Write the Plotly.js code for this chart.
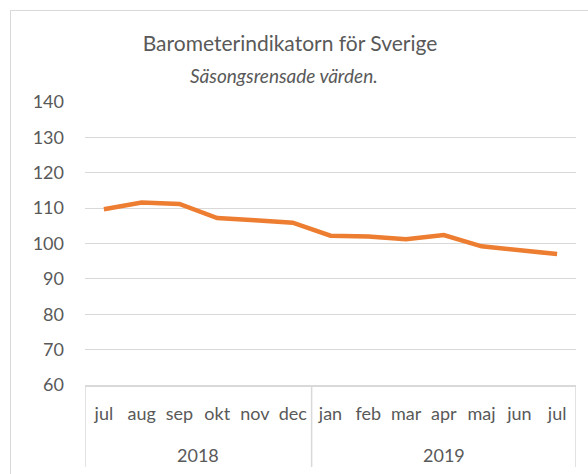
<!DOCTYPE html>
<html>
<head>
<meta charset="utf-8">
<script src="https://cdn.plot.ly/plotly-3.0.1.min.js"></script>
<style>
  html, body { margin: 0; padding: 0; background: #fff; }
  #wrap { position: relative; width: 588px; height: 474px; overflow: hidden; }
  #chart { position: absolute; left: 0; top: 0; width: 588px; height: 474px; }
  #frame { position: absolute; left: 10px; top: 10px; width: 600px; height: 500px;
           border: 1px solid #d9d9d9; pointer-events: none; }
</style>
</head>
<body>
<div id="wrap">
  <div id="chart"></div>
  <div id="frame"></div>
</div>
<script>
const years  = ["2018","2018","2018","2018","2018","2018","2019","2019","2019","2019","2019","2019","2019"];
const months = ["jul","aug","sep","okt","nov","dec","jan","feb","mar","apr","maj","jun","jul"];
const values = [109.7, 111.6, 111.2, 107.2, 106.6, 105.9, 102.2, 102.0, 101.2, 102.4, 99.2, 98.1, 97.0];
const yTicks = [60, 70, 80, 90, 100, 110, 120, 130, 140];

const FONT = "Lato, 'Open Sans', sans-serif";
const GREY = "#595959";
const LINE = "#d9d9d9";
const TICK_SIZE = 18;

const idx = months.map((_, i) => i);

// year groups derived from the data
const groups = [];
years.forEach((y, i) => {
  const g = groups[groups.length - 1];
  if (g && g.year === y) g.end = i; else groups.push({ year: y, start: i, end: i });
});

const plotH = 474 - 102 - 89;
const boxBottom = -(467 - 385) / plotH;

const shapes = [];
const bounds = [-0.5].concat(groups.map(g => g.end + 0.5));
bounds.forEach(b => shapes.push({
  type: "line", xref: "x", yref: "paper",
  x0: b, x1: b, y0: 0, y1: boxBottom,
  line: { color: LINE, width: 1.5 }
}));

const annotations = groups.map(g => ({
  text: g.year, xref: "x", yref: "paper",
  x: (g.start + g.end) / 2, y: -(455 - 385) / plotH,
  xanchor: "center", yanchor: "middle", showarrow: false,
  font: { family: FONT, size: TICK_SIZE, color: GREY }
}));
annotations.push({
  text: "<i>Säsongsrensade värden.</i>",
  xref: "paper", yref: "paper",
  x: (284 - 85) / 491, y: 1 + (102 - 75) / plotH,
  xanchor: "center", yanchor: "middle", showarrow: false,
  font: { family: FONT, size: 19, color: GREY }
});

const trace = {
  type: "scatter",
  mode: "lines",
  x: idx,
  y: values,
  line: { color: "#ED7D31", width: 4.5 },
  hoverinfo: "skip"
};

const layout = {
  width: 588, height: 474,
  margin: { l: 85, r: 12, t: 102, b: 89 },
  paper_bgcolor: "#fff",
  plot_bgcolor: "#fff",
  showlegend: false,
  font: { family: FONT, color: GREY, size: TICK_SIZE },
  title: {
    text: "Barometerindikatorn för Sverige",
    font: { family: FONT, size: 21, color: GREY },
    xref: "container", x: 290 / 588, xanchor: "center",
    yref: "container", y: 1 - 44 / 474, yanchor: "middle"
  },
  annotations: annotations,
  shapes: shapes,
  xaxis: {
    type: "linear",
    range: [-0.5, months.length - 0.5],
    tickvals: idx,
    ticktext: months,
    showgrid: false,
    showline: true, linecolor: LINE, linewidth: 1.5,
    ticks: "",
    ticklabelstandoff: 12,
    tickfont: { family: FONT, size: TICK_SIZE, color: GREY },
    zeroline: false,
    fixedrange: true
  },
  yaxis: {
    range: [60, 140],
    tickvals: yTicks,
    ticktext: yTicks.map(String),
    showgrid: true, gridcolor: LINE, gridwidth: 1,
    zeroline: false, showline: false,
    ticks: "",
    ticklabelstandoff: 20,
    tickfont: { family: FONT, size: TICK_SIZE, color: GREY },
    fixedrange: true
  }
};

Plotly.newPlot("chart", [trace], layout, { displayModeBar: false, staticPlot: true });
</script>
</body>
</html>
